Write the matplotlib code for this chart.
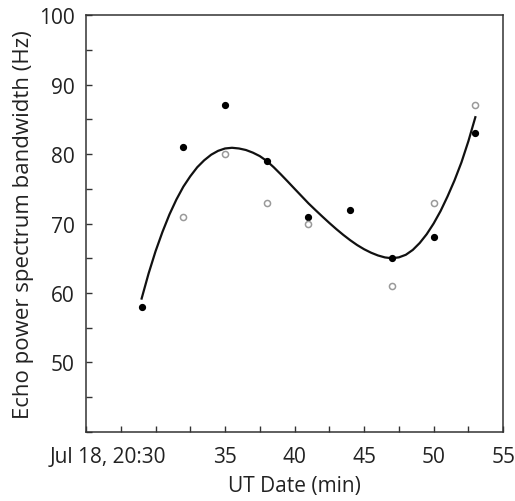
import matplotlib.pyplot as plt
import matplotlib.transforms as mtransforms
from matplotlib.ticker import MultipleLocator

plt.rcParams['font.family'] = ['Open Sans', 'DejaVu Sans']

# Данные: время (минуты после 20:00), ширина спектра (Гц)
minutes = [29, 32, 35, 38, 41, 44, 47, 50, 53]
bw_filled = [58, 81, 87, 79, 71, 72, 65, 68, 83]

minutes_open = [32, 35, 38, 41, 47, 50, 53]
bw_open = [71, 80, 73, 70, 61, 73, 87]

# Кривая аппроксимации (шаг 0.5 мин)
fit_minutes = [29, 29.5, 30, 30.5, 31, 31.5, 32, 32.5, 33, 33.5, 34, 34.5,
               35, 35.5, 36, 36.5, 37, 37.5, 38, 38.5, 39, 39.5, 40, 40.5,
               41, 41.5, 42, 42.5, 43, 43.5, 44, 44.5, 45, 45.5, 46, 46.5,
               47, 47.5, 48, 48.5, 49, 49.5, 50, 50.5, 51, 51.5, 52, 52.5, 53]
fit_bw = [59.2, 62.8, 66.0, 68.8, 71.3, 73.45, 75.3, 76.8, 78.1, 79.1, 79.9,
          80.46, 80.8, 80.9, 80.8, 80.58, 80.2, 79.7, 79.0, 78.1, 77.1, 76.06,
          75.0, 73.95, 72.9, 71.94, 71.0, 70.08, 69.2, 68.37, 67.6, 66.9,
          66.3, 65.8, 65.4, 65.12, 65.0, 65.13, 65.5, 66.2, 67.2, 68.46,
          70.0, 71.8, 73.9, 76.2, 78.8, 81.85, 85.3]

xticks = [30, 35, 40, 45, 50, 55]
xtick_labels = ['Jul 18, 20:30', '35', '40', '45', '50', '55']
yticks = [50, 60, 70, 80, 90, 100]

fig = plt.figure(figsize=(5.15, 5.02), dpi=100)
ax = fig.add_axes([0.167, 0.1375, 0.81, 0.8305])

ax.plot(fit_minutes, fit_bw, color='#111111', lw=1.6, zorder=2,
        solid_joinstyle='round')
ax.plot(minutes, bw_filled, 'o', color='#000000', ms=4.2, zorder=3)
ax.plot(minutes_open, bw_open, 'o', mfc='white', mec='#9a9a9a', mew=1.1,
        ms=4.4, zorder=3)

ax.set_xlim(25, 55)
ax.set_ylim(40, 100)
ax.set_xticks(xticks)
ax.set_xticklabels(xtick_labels)
ax.set_yticks(yticks)
ax.xaxis.set_minor_locator(MultipleLocator(2.5))
ax.yaxis.set_minor_locator(MultipleLocator(5))

ax.tick_params(which='both', direction='in', length=4.5, width=1.0,
               color='#333333', labelsize=15, labelcolor='#222222', pad=8)
ax.tick_params(axis='x', which='both', pad=10)

# первая подпись: "30" под делением
lbl = ax.get_xticklabels()[0]
lbl.set_ha('right')
lbl.set_transform(lbl.get_transform() +
                  mtransforms.ScaledTranslation(0.11, 0, fig.dpi_scale_trans))

for s in ax.spines.values():
    s.set_color('#333333')
    s.set_linewidth(1.1)

ax.set_xlabel('UT Date (min)', fontsize=15, color='#222222', labelpad=6)
ax.set_ylabel('Echo power spectrum bandwidth (Hz)', fontsize=16,
              color='#222222', labelpad=4)

fig.savefig('out.png', dpi=100)
